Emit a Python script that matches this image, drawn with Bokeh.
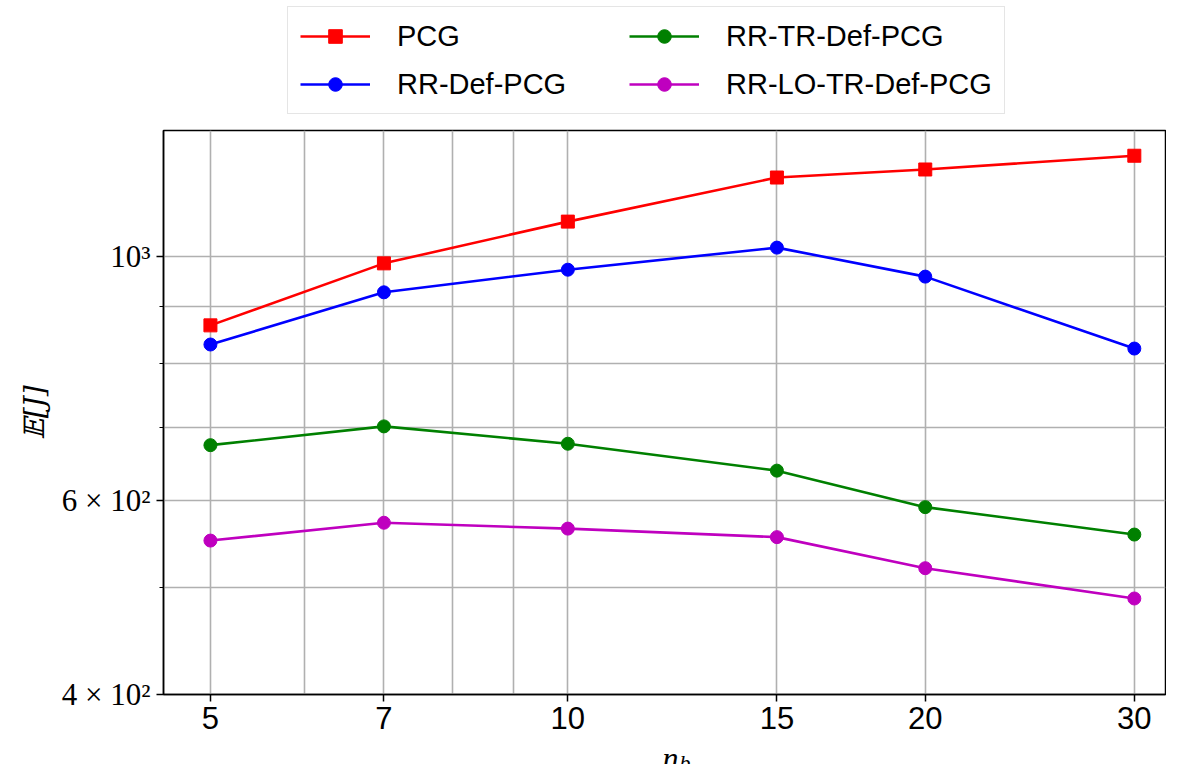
from bokeh.plotting import figure
from bokeh.models import Range1d, FixedTicker, Legend, LegendItem, Label
from bokeh.layouts import column
from bokeh.embed import file_html
from bokeh.resources import INLINE

# ---- data ----
n_b = [5, 7, 10, 15, 20, 30]
pcg = [866, 986, 1076, 1180, 1200, 1235]
rr_def_pcg = [832, 928, 973, 1019, 959, 825]
rr_tr_def_pcg = [674, 701, 676, 639, 592, 559]
rr_lo_tr_def_pcg = [552, 573, 566, 556, 521, 489]

series_names = ["PCG", "RR-Def-PCG", "RR-TR-Def-PCG", "RR-LO-TR-Def-PCG"]
series_colors = ["#ff0000", "#0000ff", "#008000", "#bf00bf"]
series_markers = ["square", "circle", "circle", "circle"]

x_tick_values = [5, 7, 10, 15, 20, 30]
x_minor_values = [6, 8, 9]
y_tick_values = [400, 600, 1000]
y_minor_values = [500, 700, 800, 900]
y_tick_labels = {400: "4 × 10²", 600: "6 × 10²", 1000: "10³"}

SANS = "Liberation Sans"
SERIF = "Liberation Serif"
all_series = [pcg, rr_def_pcg, rr_tr_def_pcg, rr_lo_tr_def_pcg]


def strip(height):
    f = figure(width=1166, height=height, x_range=Range1d(0, 1), y_range=Range1d(0, 1),
               toolbar_location=None, output_backend="svg",
               x_axis_location=None, y_axis_location=None,
               min_border_left=0, min_border_right=0, min_border_top=0,
               min_border_bottom=0)
    f.outline_line_color = None
    f.grid.visible = False
    f.background_fill_color = "white"
    f.border_fill_color = "white"
    return f


# ---------------- main plot ----------------
p = figure(width=1166, height=620, x_axis_type="log", y_axis_type="log",
           x_range=Range1d(4.565, 31.87), y_range=Range1d(400, 1302),
           toolbar_location=None, output_backend="svg",
           min_border_left=163, min_border_right=1, min_border_top=10,
           min_border_bottom=46)

p.background_fill_color = "white"
p.border_fill_color = "white"
p.outline_line_color = "black"
p.outline_line_width = 1.5

p.xaxis.ticker = FixedTicker(ticks=x_tick_values, minor_ticks=x_minor_values)
p.xaxis.major_label_overrides = {v: str(v) for v in x_tick_values}
p.xaxis.major_label_text_font = SANS
p.xaxis.major_label_text_font_size = "31px"
p.xaxis.major_label_text_color = "black"
p.xaxis.major_tick_in = 0
p.xaxis.major_tick_out = 7
p.xaxis.minor_tick_line_color = None
p.xaxis.major_label_standoff = 5

p.yaxis.ticker = FixedTicker(ticks=y_tick_values, minor_ticks=y_minor_values)
p.yaxis.major_label_overrides = y_tick_labels
p.yaxis.major_label_text_font = SERIF
p.yaxis.major_label_text_font_size = "31px"
p.yaxis.major_label_text_color = "black"
p.yaxis.major_tick_in = 0
p.yaxis.major_tick_out = 7
p.yaxis.minor_tick_in = 0
p.yaxis.minor_tick_out = 4
p.yaxis.major_label_standoff = 6
p.yaxis.axis_label = "𝔼[J]"
p.yaxis.axis_label_text_font = "DejaVu Serif"
p.yaxis.axis_label_text_font_size = "28px"
p.yaxis.axis_label_text_font_style = "italic"
p.yaxis.axis_label_text_color = "black"
p.yaxis.axis_label_standoff = 8

for ax in (p.xaxis, p.yaxis):
    ax.axis_line_color = "black"
    ax.axis_line_width = 1.5
    ax.major_tick_line_color = "black"
    ax.major_tick_line_width = 1.5
    ax.minor_tick_line_width = 1.2

for g in (p.xgrid, p.ygrid):
    g.grid_line_color = "#b0b0b0"
    g.grid_line_width = 1.6
    g.minor_grid_line_color = "#b0b0b0"
    g.minor_grid_line_width = 1.6

for name, ys, col, mk in zip(series_names, all_series, series_colors, series_markers):
    p.line(n_b, ys, line_color=col, line_width=2.6)
    p.scatter(n_b, ys, marker=mk, size=13, fill_color=col, line_color=col)

# ---------------- legend strip (above the plot) ----------------
top = strip(120)
items = []
for name, ys, col, mk in zip(series_names, all_series, series_colors, series_markers):
    # same series drawn again here only to give the legend its glyphs (outside this strip's view)
    ln = top.line(n_b, ys, line_color=col, line_width=2.6)
    sc = top.scatter(n_b, ys, marker=mk, size=13, fill_color=col, line_color=col)
    items.append(LegendItem(label=name, renderers=[ln, sc]))

legend = Legend(items=items, location=(124, 6), ncols=2, orientation="vertical",
                label_text_font=SANS, label_text_font_size="29px",
                label_text_color="black",
                glyph_width=70, glyph_height=34, label_standoff=27,
                label_width=218, spacing=14, padding=12, margin=0,
                border_line_color="#cccccc", border_line_width=1.5,
                background_fill_color="white", background_fill_alpha=1.0)
top.add_layout(legend)

# ---------------- x-axis title strip (below the plot) ----------------
lab = strip(24)
lab.add_layout(Label(x=515, x_units="screen", y=7, y_units="screen",
                     text="n", text_align="right", text_baseline="alphabetic",
                     text_font=SERIF, text_font_size="32px",
                     text_font_style="italic", text_color="black"))
lab.add_layout(Label(x=516, x_units="screen", y=2, y_units="screen",
                     text="b", text_align="left", text_baseline="alphabetic",
                     text_font=SERIF, text_font_size="22px",
                     text_font_style="italic", text_color="black"))

layout = column(top, p, lab, spacing=0)
open("out.html", "w").write(file_html(layout, INLINE))
